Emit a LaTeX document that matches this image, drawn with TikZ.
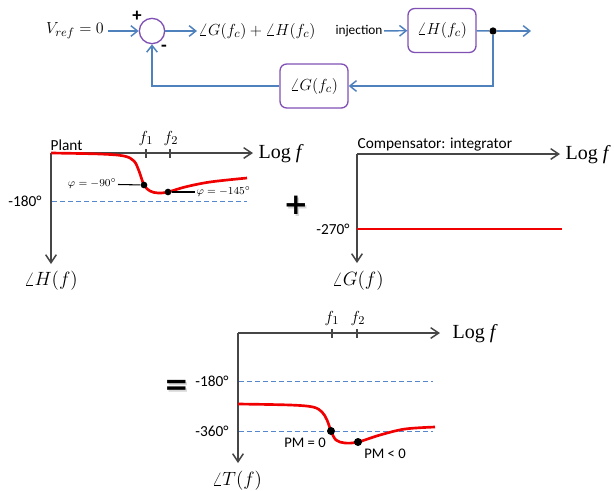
\documentclass[tikz,border=0pt]{standalone}
\usepackage{fontspec}
\setmainfont{Carlito}
\newfontfamily\tnr{Liberation Serif}
\newfontfamily\djv{DejaVu Sans}
\usetikzlibrary{arrows.meta}
\definecolor{cblue}{RGB}{79,129,189}
\definecolor{cpurp}{RGB}{128,80,180}
\definecolor{caxis}{RGB}{70,70,70}
\definecolor{cred}{RGB}{240,0,0}
\definecolor{cdash}{RGB}{85,135,205}
\tikzset{
  flow/.style={cblue, line width=1.1pt, -{Straight Barb[length=5pt,width=8pt]}},
  blk/.style={draw=cpurp, line width=1pt, rounded corners=5pt, minimum width=51pt, minimum height=33pt, fill=white, inner sep=1pt},
  axis/.style={caxis, line width=1.1pt, -{Straight Barb[length=6pt,width=8pt]}},
  curve/.style={cred, line width=2pt},
  guide/.style={cdash, line width=0.75pt, dash pattern=on 3.5pt off 2.5pt},
  mth/.style={font=\fontsize{13}{15}\selectfont, inner sep=1pt},
  lbl/.style={font=\fontsize{11.5}{13}\selectfont, inner sep=1pt},
  logf/.style={font=\tnr\fontsize{15}{17}\selectfont, anchor=west, inner sep=1pt},
  tick/.style={caxis, line width=0.9pt},
  dotc/.style={circle, fill=black, inner sep=0pt, minimum size=5pt},
  phil/.style={font=\fontsize{8.5}{10}\selectfont, inner sep=1pt},
  thin/.style={black, line width=0.8pt},
  bigsign/.style={font=\djv\bfseries\fontsize{22}{22}\selectfont, inner sep=0pt}
}
\begin{document}
\begin{tikzpicture}[x=0.75pt, y=-0.75pt]
\useasboundingbox (0,0) rectangle (614,490);
% ---------------- block diagram ----------------
\node[mth] (vref) at (75,31) {$V_{ref}=0$};
\node[draw=cpurp, line width=1pt, circle, minimum size=19pt, inner sep=0pt] (sum) at (152,31) {};
\node[font=\bfseries\fontsize{14}{14}\selectfont, inner sep=0pt] (plus) at (137,16) {+};
\node[font=\bfseries\fontsize{14}{14}\selectfont, inner sep=0pt] (minus) at (164,48) {-};
\node[mth] (sumout) at (257,31) {$\angle G\bigl(f_c\bigr)+\angle H\bigl(f_c\bigr)$};
\node[font=\fontsize{10}{12}\selectfont, inner sep=1pt] (inj) at (359,31) {injection};
\node[blk, mth] (H) at (442,30.5) {$\angle H\bigl(f_c\bigr)$};
\node[dotc, minimum size=5.5pt] (dot) at (493,31) {};
\coordinate (out) at (531,31);
\node[blk, mth] (G) at (314,86) {$\angle G\bigl(f_c\bigr)$};
\draw[flow] (vref.east) ++(3,0) coordinate (vs) -- (sum.west);
\draw[flow] (sum) -- (sumout);
\draw[flow] (inj) -- (H);
\draw[cblue, line width=1.1pt] (H) -- (dot);
\draw[flow] (dot) -- (out);
\draw[flow] (dot) |- (G);
\draw[flow] (G) -| (sum);
% ---------------- plant ----------------
\coordinate (o1) at (51,153);
\coordinate (x1) at (253,153);
\coordinate (y1) at (51,264);
\draw[guide] (52,201) coordinate (g1a) -- (247,201) coordinate (g1b);
\draw[axis] (o1) -- (x1);
\draw[axis] (o1) -- (y1);
\node[logf] (log1) at (257,154) {Log \textit{f}};
\node[lbl, anchor=south west] (plant) at (49,152) {Plant};
\node[mth, font=\fontsize{14}{16}\selectfont] (ah) at (51,281) {$\angle H\bigl(f\bigr)$};
\node[lbl] (m180a) at (25,201) {-180°};
\draw[tick] (146,149) coordinate (t1a) -- (146,158);
\draw[tick] (170,149) coordinate (t1b) -- (170,158);
\node[mth] (f1a) at (146,138) {$f_1$};
\node[mth] (f2a) at (171,138) {$f_2$};
\draw[curve] plot[smooth, tension=0.55] coordinates {(51,153) (100,154) (124,156) (134,161) (139,171) (144,185) (150,191) (158,193) (168,192) (185,187) (210,182) (247,178)};
\node[phil, anchor=east] (phi1) at (118,184) {$\varphi=-90^\circ$};
\node[phil, anchor=west] (phi2) at (195,192) {$\varphi=-145^\circ$};
\node[dotc] (d1) at (144,185) {};
\node[dotc] (d2) at (168,192) {};
\draw[thin] (phi1) -- (d1);
\draw[thin] (d2) -- (phi2);
% ---------------- plus sign ----------------
\node[bigsign, gray!60, opacity=0.5] (plussh) at (297.5,207) {+};
\node[bigsign] (plusbig) at (296,205) {+};
% ---------------- compensator ----------------
\coordinate (o2) at (357,154);
\coordinate (x2) at (560,154);
\coordinate (y2) at (357,263);
\draw[axis] (o2) -- (x2);
\draw[axis] (o2) -- (y2);
\node[logf] (log2) at (564,155) {Log \textit{f}};
\node[lbl, anchor=south west] (comp) at (356,153) {Compensator: integrator};
\node[mth, font=\fontsize{14}{16}\selectfont] (ag) at (358,281) {$\angle G\bigl(f\bigr)$};
\node[lbl] (m270) at (333,229) {-270°};
\draw[curve] (357,229) coordinate (c1) -- (562,229) coordinate (c2);
% ---------------- equals ----------------
\node[bigsign, gray!60, opacity=0.5] (eqsh) at (178,389) {=};
\node[bigsign] (eqbig) at (176.5,387) {=};
% ---------------- total ----------------
\coordinate (o3) at (238,333);
\coordinate (x3) at (440,333);
\coordinate (y3) at (238,463);
\draw[guide] (239,381) coordinate (g3a) -- (433,381) coordinate (g3b);
\draw[guide] (239,431) coordinate (g4a) -- (433,431) coordinate (g4b);
\draw[axis] (o3) -- (x3);
\draw[axis] (o3) -- (y3);
\node[logf] (log3) at (451,334) {Log \textit{f}};
\node[mth, font=\fontsize{14}{16}\selectfont] (at) at (237,481) {$\angle T\bigl(f\bigr)$};
\node[lbl] (m180b) at (212,381) {-180°};
\node[lbl] (m360) at (212,431) {-360°};
\draw[tick] (332,329) coordinate (t3a) -- (332,338);
\draw[tick] (357,329) coordinate (t3b) -- (357,338);
\node[mth] (f1b) at (332,318) {$f_1$};
\node[mth] (f2b) at (358,318) {$f_2$};
\draw[curve] plot[smooth, tension=0.55] coordinates {(238,404) (290,405) (313,407) (322,412) (327,420) (331,431) (336,440) (345,443) (358,442) (380,435) (405,429) (435,427)};
\node[dotc, minimum size=6pt] (d3) at (331,431) {};
\node[dotc, minimum size=6pt] (d4) at (358,442) {};
\node[lbl, font=\fontsize{11}{13}\selectfont] (pm0) at (305,443) {PM = 0};
\node[lbl, font=\fontsize{11}{13}\selectfont] (pm1) at (385,454) {PM < 0};
\end{tikzpicture}
\end{document}
